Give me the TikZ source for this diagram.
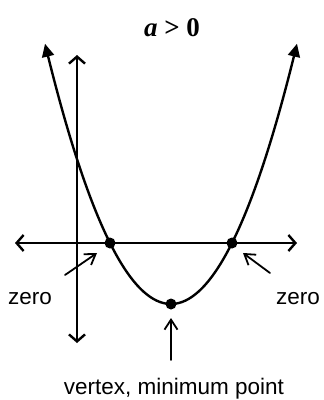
\documentclass[tikz,border=0pt]{standalone}
\usepackage{fontspec}
\setmainfont{Liberation Serif}
\setsansfont{Liberation Sans}
\usetikzlibrary{arrows.meta}

\tikzset{
  axisline/.style={line width=2.4pt, {Straight Barb[length=7pt,width=16pt]}-{Straight Barb[length=7pt,width=16pt]}},
  pointer/.style={line width=1.8pt, -{Straight Barb[length=10pt,width=13pt]}},
  dotmark/.style={circle, fill=black, inner sep=0pt, minimum size=11pt},
  lbl/.style={font=\sffamily\fontsize{22.5}{27}\selectfont, inner sep=0pt, anchor=center},
}

\begin{document}
\begin{tikzpicture}[x=1pt, y=-1pt, line cap=round, line join=round]

  %% ════ 坐标轴 ════
  \coordinate (xl) at (15.0,243.0);
  \coordinate (xr) at (297.0,243.0);
  \coordinate (yt) at (77.0,55.0);
  \coordinate (yb) at (77.0,343.0);
  \draw[axisline] (xl) -- (xr);
  \draw[axisline] (yt) -- (yb);

  %% ════ 抛物线 y = 304 - (x-171)^2/61 ════
  \draw[line width=2.4pt, {Triangle[length=13pt,width=12pt]}-{Triangle[length=13pt,width=12pt]}]
    plot[domain=45:297, samples=80, smooth] (\x, {304-(\x-171)^2/61});

  %% ════ 实心点 ════
  \node[dotmark] (zeroL) at (110.0,243.0) {};
  \node[dotmark] (zeroR) at (232.0,243.0) {};
  \node[dotmark] (vtx) at (171.0,304.0) {};

  %% ════ 指示箭头 ════
  \coordinate (pL) at (65.0,275.0);
  \coordinate (pLend) at (97.0,253.0);
  \coordinate (pR) at (270.0,273.0);
  \coordinate (pRend) at (243.0,253.0);
  \coordinate (pV) at (171.0,360.0);
  \coordinate (pVend) at (171.0,318.0);
  \draw[pointer] (pL) -- (pLend);
  \draw[pointer] (pR) -- (pRend);
  \draw[pointer] (pV) -- (pVend);

  %% ════ 标签 ════
  \node[inner sep=0pt, font=\fontsize{27}{32}\selectfont] (title) at (172.0,28.0) {\textbf{\textit{a}} \textbf{>} \textbf{0}};
  \node[lbl] (zlabL) at (30.0,299.0) {zero};
  \node[lbl] (zlabR) at (298.0,299.0) {zero};
  \node[lbl] (vlab) at (174.0,389.0) {vertex, minimum point};

  % 钉死画布
  \pgfresetboundingbox
  \path[use as bounding box] (0,0) rectangle (324,400);
\end{tikzpicture}
\end{document}
